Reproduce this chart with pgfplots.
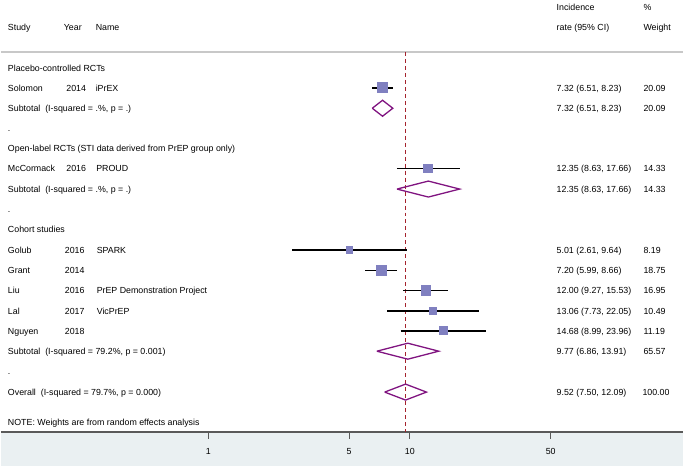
\documentclass[border=0pt]{standalone}
\usepackage{pgfplots}
\pgfplotsset{compat=1.18}
\usepackage{fontspec}
\setmainfont{Liberation Sans}
\definecolor{sqcol}{RGB}{128,128,192}
\definecolor{dcol}{RGB}{128,20,128}
\definecolor{refcol}{RGB}{165,35,45}
\definecolor{axcol}{RGB}{90,90,90}
\definecolor{bgcol}{RGB}{234,240,242}
\definecolor{hdcol}{RGB}{200,200,200}
\newcommand{\tf}{\fontsize{8.85}{10}\selectfont}
\newcommand{\tx}[3]{\node[anchor=base west,inner sep=0pt,font=\tf] at (#1pt,{433pt-#2pt-3.3pt}) {#3};}
\pgfplotsset{
  ci/.style={black, line width=1.6pt, forget plot},
  box/.style={only marks, mark=square*, mark size=#1, mark options={draw=sqcol, fill=sqcol, line width=0pt}, forget plot},
  dia/.style={dcol, line width=1.3pt, line join=miter, forget plot},
}
\begin{document}
\begin{tikzpicture}
\path (0,-34pt) rectangle (684pt,433pt);
\fill[bgcol] (0,0) rectangle (684pt,-34pt);
\draw[hdcol, line width=1.3pt] (0,{433pt-52pt}) -- (684pt,{433pt-52pt});
\begin{axis}[
  at={(0,0)}, anchor=south west,
  scale only axis, width=684pt, height=433pt,
  xmode=log, xmin=0.09336, xmax=227.2,
  ymin=-433, ymax=0,
  axis x line=bottom, axis y line=none,
  axis line style={-, draw=axcol, line width=1.6pt},
  xtick={1,5,10,50}, xticklabels={1,5,10,50},
  xminorticks=false,
  tick align=outside, major tick length=7pt,
  tick style={draw=axcol, line width=1pt},
  xticklabel style={font=\tf, yshift=-6pt},
  clip=false,
]
% reference line (overall estimate)
\addplot[refcol, line width=0.9pt, dash pattern=on 4pt off 3pt, forget plot] coordinates {(9.52,-52) (9.52,-433)};
% Solomon
\addplot[box=5.15pt] coordinates {(7.32,-88)};
\addplot[ci] coordinates {(6.51,-88) (8.23,-88)};
\addplot[dia] coordinates {(6.51,-108.5) (7.32,-100.5) (8.23,-108.5) (7.32,-116.5) (6.51,-108.5)};
% McCormack
\addplot[box=4.35pt] coordinates {(12.35,-169)};
\addplot[ci] coordinates {(8.63,-169) (17.66,-169)};
\addplot[dia] coordinates {(8.63,-189.5) (12.35,-181.5) (17.66,-189.5) (12.35,-197.5) (8.63,-189.5)};
% Cohort
\addplot[box=3.29pt] coordinates {(5.01,-250.5)};
\addplot[ci] coordinates {(2.61,-250.5) (9.64,-250.5)};
\addplot[box=4.98pt] coordinates {(7.20,-271)};
\addplot[ci] coordinates {(5.99,-271) (8.66,-271)};
\addplot[box=4.73pt] coordinates {(12.00,-291)};
\addplot[ci] coordinates {(9.27,-291) (15.53,-291)};
\addplot[box=3.72pt] coordinates {(13.06,-311.5)};
\addplot[ci] coordinates {(7.73,-311.5) (22.05,-311.5)};
\addplot[box=3.85pt] coordinates {(14.68,-331.5)};
\addplot[ci] coordinates {(8.99,-331.5) (23.96,-331.5)};
\addplot[dia] coordinates {(6.86,-352) (9.77,-344) (13.91,-352) (9.77,-360) (6.86,-352)};
% Overall
\addplot[dia] coordinates {(7.50,-393) (9.52,-385) (12.09,-393) (9.52,-401) (7.50,-393)};
\end{axis}
% header
\tx{557}{7}{Incidence}
\tx{644}{7}{\%}
\tx{7}{27}{Study}
\tx{63}{27}{Year}
\tx{95}{27}{Name}
\tx{557}{27}{rate (95\% CI)}
\tx{644}{27}{Weight}
% rows
\tx{7}{68}{Placebo-controlled RCTs}
\tx{7}{88}{Solomon}\tx{65.5}{88}{2014}\tx{95}{88}{iPrEX}
\tx{557}{88}{7.32 (6.51, 8.23)}\tx{644}{88}{20.09}
\tx{7}{108.5}{Subtotal\ \ (I-squared = .\%, p = .)}
\tx{557}{108.5}{7.32 (6.51, 8.23)}\tx{644}{108.5}{20.09}
\tx{7}{129}{.}
\tx{7}{149}{Open-label RCTs (STI data derived from PrEP group only)}
\tx{7}{169}{McCormack}\tx{65.5}{169}{2016}\tx{95.5}{169}{PROUD}
\tx{557}{169}{12.35 (8.63, 17.66)}\tx{644}{169}{14.33}
\tx{7}{189.5}{Subtotal\ \ (I-squared = .\%, p = .)}
\tx{557}{189.5}{12.35 (8.63, 17.66)}\tx{644}{189.5}{14.33}
\tx{7}{210}{.}
\tx{7}{230}{Cohort studies}
\tx{7}{250.5}{Golub}\tx{64}{250.5}{2016}\tx{96}{250.5}{SPARK}
\tx{557}{250.5}{5.01 (2.61, 9.64)}\tx{644}{250.5}{8.19}
\tx{7}{271}{Grant}\tx{64}{271}{2014}
\tx{557}{271}{7.20 (5.99, 8.66)}\tx{644}{271}{18.75}
\tx{7}{291}{Liu}\tx{64}{291}{2016}\tx{96}{291}{PrEP Demonstration Project}
\tx{557}{291}{12.00 (9.27, 15.53)}\tx{644}{291}{16.95}
\tx{7}{311.5}{Lal}\tx{64}{311.5}{2017}\tx{96}{311.5}{VicPrEP}
\tx{557}{311.5}{13.06 (7.73, 22.05)}\tx{644}{311.5}{10.49}
\tx{7}{331.5}{Nguyen}\tx{64}{331.5}{2018}
\tx{557}{331.5}{14.68 (8.99, 23.96)}\tx{644}{331.5}{11.19}
\tx{7}{352}{Subtotal\ \ (I-squared = 79.2\%, p = 0.001)}
\tx{557}{352}{9.77 (6.86, 13.91)}\tx{644}{352}{65.57}
\tx{7}{372.5}{.}
\tx{7}{393}{Overall\ \ (I-squared = 79.7\%, p = 0.000)}
\tx{557}{393}{9.52 (7.50, 12.09)}\tx{643}{393}{100.00}
\tx{7}{423}{NOTE: Weights are from random effects analysis}
\end{tikzpicture}
\end{document}
